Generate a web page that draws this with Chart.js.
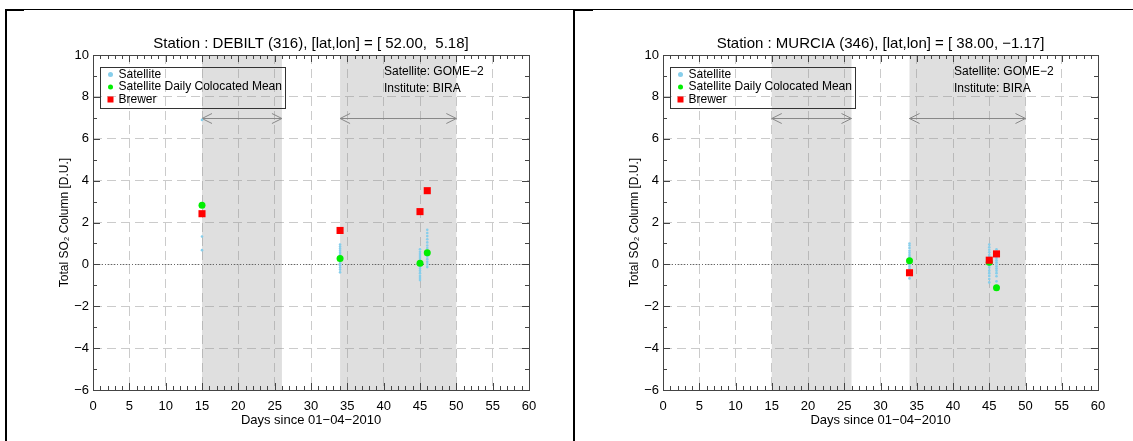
<!DOCTYPE html>
<html>
<head>
<meta charset="utf-8">
<script src="https://cdn.jsdelivr.net/npm/chart.js@4.4.0/dist/chart.umd.min.js"></script>
<style>
    html, body { margin: 0; padding: 0; background: #fff; }
    #wrap { position: relative; width: 1133px; height: 441px; overflow: hidden; }
    canvas { position: absolute; top: 0; }
    .ln { position: absolute; background: #000; }
</style>
</head>
<body>
<div id="wrap">
    <canvas id="debiltChart" width="575" height="441" style="left:0"></canvas>
    <canvas id="murciaChart" width="563" height="441" style="left:570px"></canvas>
    <div class="ln" style="left:5px;top:9px;width:1128px;height:1px"></div>
    <div class="ln" style="left:5px;top:9px;width:19px;height:2px"></div>
    <div class="ln" style="left:5px;top:9px;width:2px;height:432px"></div>
    <div class="ln" style="left:573px;top:9px;width:20px;height:2px"></div>
    <div class="ln" style="left:573px;top:9px;width:2px;height:432px"></div>
</div>
<script>
// Axis ranges (days since 01-04-2010 / total SO2 in D.U.)
const xMin = 0, xMax = 60, xStep = 5;
const yMin = -6, yMax = 10, yStep = 2;

// Periods shaded in grey, with the double arrow drawn at this level
const shadedPeriods = [[15, 26], [34, 50]];
const arrowLevel = 7;

const satelliteName = 'Satellite: GOME\u22122';
const instituteName = 'Institute: BIRA';
const legendLabels = ['Satellite', 'Satellite Daily Colocated Mean', 'Brewer'];

// DEBILT (316)
const debiltTitle = 'Station : DEBILT (316), [lat,lon] = [ 52.00,  5.18]';
const debiltSatDays = [15, 15, 15,
    34, 34, 34, 34, 34, 34, 34, 34, 34, 34, 34, 34, 34, 34, 34,
    45, 45, 45, 45, 45, 45, 45, 45, 45, 45, 45, 45, 45, 45, 45,
    46, 46, 46, 46, 46, 46, 46, 46, 46, 46, 46, 46, 46, 46];
const debiltSatValues = [6.9, 1.33, 0.68,
    0.95, 0.85, 0.75, 0.65, 0.55, 0.45, 0.38, 0.3, 0.2, 0.12, 0.05, -0.05, -0.15, -0.25, -0.38,
    0.72, 0.6, 0.5, 0.4, 0.3, 0.2, 0.12, 0.0, -0.1, -0.2, -0.3, -0.42, -0.55, -0.65, -0.75,
    1.65, 1.5, 1.35, 1.2, 1.05, 0.9, 0.78, 0.65, 0.5, 0.38, 0.25, 0.12, 0.0, -0.13];
const debiltMeanDays = [15, 34, 45, 46];
const debiltMeanValues = [2.82, 0.28, 0.05, 0.55];
const debiltBrewerDays = [15, 34, 45, 46];
const debiltBrewerValues = [2.42, 1.62, 2.52, 3.52];

// MURCIA (346)
const murciaTitle = 'Station : MURCIA (346), [lat,lon] = [ 38.00, \u22121.17]';
const murciaSatDays = [
    34, 34, 34, 34, 34, 34, 34, 34, 34, 34, 34, 34, 34, 34, 34,
    45, 45, 45, 45, 45, 45, 45, 45, 45, 45, 45, 45, 45, 45, 45,
    46, 46, 46, 46, 46, 46, 46, 46, 46, 46, 46, 46, 46, 46];
const murciaSatValues = [
    1.0, 0.9, 0.78, 0.65, 0.55, 0.45, 0.35, 0.25, 0.1, 0.0, -0.1, -0.2, -0.35, -0.5, -0.67,
    0.95, 0.82, 0.7, 0.58, 0.45, 0.35, 0.25, 0.1, -0.05, -0.15, -0.3, -0.42, -0.55, -0.7, -0.86,
    0.72, 0.6, 0.5, 0.4, 0.3, 0.2, 0.1, 0.0, -0.1, -0.2, -0.3, -0.42, -0.57, -0.81];
const murciaMeanDays = [34, 45, 46];
const murciaMeanValues = [0.17, 0.1, -1.12];
const murciaBrewerDays = [34, 45, 46];
const murciaBrewerValues = [-0.4, 0.2, 0.5];

const FONT = "'Liberation Sans', Arial, Helvetica, sans-serif";
const SAT_COLOR = '#87ceeb';
const MEAN_COLOR = '#00ee00';
const BREWER_COLOR = '#ff0000';

const toPoints = (xs, ys) => xs.map((d, i) => ({ x: d, y: ys[i] }));
const minusLabel = v => v < 0 ? '\u2212' + Math.abs(v) : String(v);

// Shading, arrows, zero line, frame ticks, legend box and notes
const decorPlugin = {
    id: 'decor',
    beforeDraw(chart) {
        const { ctx, chartArea: a, scales: { x } } = chart;
        ctx.save();
        ctx.fillStyle = '#dfdfdf';
        shadedPeriods.forEach(([s, e]) => {
            const x0 = x.getPixelForValue(s), x1 = x.getPixelForValue(e);
            ctx.fillRect(x0, a.top, x1 - x0, a.bottom - a.top);
        });
        ctx.restore();
    },
    beforeDatasetsDraw(chart) {
        const { ctx, chartArea: a, scales: { x, y } } = chart;
        ctx.save();
        // dotted zero line
        const y0 = Math.round(y.getPixelForValue(0)) + 0.5;
        ctx.strokeStyle = '#666';
        ctx.lineWidth = 1;
        ctx.setLineDash([1, 2]);
        ctx.beginPath();
        ctx.moveTo(a.left, y0);
        ctx.lineTo(a.right, y0);
        ctx.stroke();
        ctx.setLineDash([]);
        // double arrows over the shaded periods
        const ya = Math.round(y.getPixelForValue(arrowLevel)) + 0.5;
        ctx.strokeStyle = '#888';
        shadedPeriods.forEach(([s, e]) => {
            const x0 = x.getPixelForValue(s), x1 = x.getPixelForValue(e);
            ctx.beginPath();
            ctx.moveTo(x0, ya); ctx.lineTo(x1, ya);
            ctx.moveTo(x0 + 10, ya - 5); ctx.lineTo(x0, ya); ctx.lineTo(x0 + 10, ya + 5);
            ctx.moveTo(x1 - 10, ya - 5); ctx.lineTo(x1, ya); ctx.lineTo(x1 - 10, ya + 5);
            ctx.stroke();
        });
        ctx.restore();
    },
    afterDraw(chart) {
        const { ctx, chartArea: a, scales: { x, y } } = chart;
        ctx.save();
        ctx.strokeStyle = '#444';
        ctx.lineWidth = 1;
        ctx.strokeRect(Math.round(a.left) + 0.5, Math.round(a.top) + 0.5,
            Math.round(a.right - a.left), Math.round(a.bottom - a.top));
        ctx.beginPath();
        for (let d = xMin; d <= xMax; d++) {
            const px = Math.round(x.getPixelForValue(d)) + 0.5;
            const len = d % xStep === 0 ? 7 : 4;
            ctx.moveTo(px, a.bottom); ctx.lineTo(px, a.bottom - len);
            ctx.moveTo(px, a.top); ctx.lineTo(px, a.top + len);
        }
        for (let v = yMin; v <= yMax; v++) {
            const py = Math.round(y.getPixelForValue(v)) + 0.5;
            const len = v % yStep === 0 ? 7 : 4;
            ctx.moveTo(a.left, py); ctx.lineTo(a.left + len, py);
            ctx.moveTo(a.right, py); ctx.lineTo(a.right - len, py);
        }
        ctx.stroke();

        // legend box
        const bx = Math.round(a.left) + 7.5, by = Math.round(a.top) + 12.5;
        ctx.fillStyle = '#fff';
        ctx.strokeStyle = '#333';
        ctx.strokeRect(bx, by, 185, 41);
        ctx.font = '12px ' + FONT;
        ctx.textBaseline = 'middle';
        ctx.fillStyle = '#000';
        const rows = [by + 7, by + 19.5, by + 32];
        legendLabels.forEach((t, i) => ctx.fillText(t, bx + 18, rows[i]));
        ctx.fillStyle = SAT_COLOR;
        ctx.beginPath(); ctx.arc(bx + 10, rows[0], 2.5, 0, Math.PI * 2); ctx.fill();
        ctx.fillStyle = MEAN_COLOR;
        ctx.beginPath(); ctx.arc(bx + 10, rows[1], 2.5, 0, Math.PI * 2); ctx.fill();
        ctx.fillStyle = BREWER_COLOR;
        ctx.fillRect(bx + 7, rows[2] - 3, 6, 6);

        // notes
        ctx.fillStyle = '#000';
        ctx.font = '12px ' + FONT;
        ctx.fillText(satelliteName, a.left + 291, a.top + 17);
        ctx.fillText(instituteName, a.left + 291, a.top + 34);
        ctx.restore();
    }
};

function makeChart(canvasId, title, sat, mean, brewer, padRight) {
    return new Chart(document.getElementById(canvasId), {
        type: 'scatter',
        data: {
            datasets: [
                {
                    label: legendLabels[0], data: sat, order: 3,
                    pointStyle: 'circle', pointRadius: 1.3, borderWidth: 0,
                    backgroundColor: SAT_COLOR
                },
                {
                    label: legendLabels[1], data: mean, order: 2,
                    pointStyle: 'circle', pointRadius: 3.5, borderWidth: 0,
                    backgroundColor: MEAN_COLOR
                },
                {
                    label: legendLabels[2], data: brewer, order: 1,
                    pointStyle: 'rect', pointRadius: 5, borderWidth: 0,
                    backgroundColor: BREWER_COLOR
                }
            ]
        },
        options: {
            responsive: false,
            animation: false,
            devicePixelRatio: 1,
            layout: { padding: { left: 55, right: padRight, top: 30, bottom: 0 } },
            plugins: {
                legend: { display: false },
                tooltip: { enabled: false },
                title: {
                    display: true, text: title, fullSize: false, color: '#000',
                    font: { family: FONT, size: 15, weight: 'normal' },
                    padding: { top: 5, bottom: 2 }
                }
            },
            scales: {
                x: {
                    type: 'linear', min: xMin, max: xMax,
                    afterFit(s) { s.height = 51; },
                    ticks: { stepSize: xStep, color: '#000', padding: 9, maxRotation: 0,
                        font: { family: FONT, size: 13 }, callback: minusLabel },
                    grid: { color: 'rgba(140,140,140,0.45)', drawTicks: false, borderDash: [9, 5] },
                    border: { display: false, dash: [9, 5] },
                    title: { display: true, text: 'Days since 01\u221204\u22122010', color: '#000',
                        font: { family: FONT, size: 13 }, padding: { top: 0, bottom: 13 } }
                },
                y: {
                    type: 'linear', min: yMin, max: yMax,
                    afterFit(s) { s.width = 38; },
                    ticks: { stepSize: yStep, color: '#000', padding: 4,
                        font: { family: FONT, size: 13 }, callback: minusLabel },
                    grid: { color: 'rgba(140,140,140,0.45)', drawTicks: false, borderDash: [9, 5] },
                    border: { display: false, dash: [9, 5] },
                    title: { display: true, text: 'Total SO\u2082 Column [D.U.]', color: '#000',
                        font: { family: FONT, size: 12 }, padding: { top: 2, bottom: 0 } }
                }
            }
        },
        plugins: [decorPlugin]
    });
}

makeChart('debiltChart', debiltTitle,
    toPoints(debiltSatDays, debiltSatValues),
    toPoints(debiltMeanDays, debiltMeanValues),
    toPoints(debiltBrewerDays, debiltBrewerValues), 46);

makeChart('murciaChart', murciaTitle,
    toPoints(murciaSatDays, murciaSatValues),
    toPoints(murciaMeanDays, murciaMeanValues),
    toPoints(murciaBrewerDays, murciaBrewerValues), 35);
</script>
</body>
</html>
